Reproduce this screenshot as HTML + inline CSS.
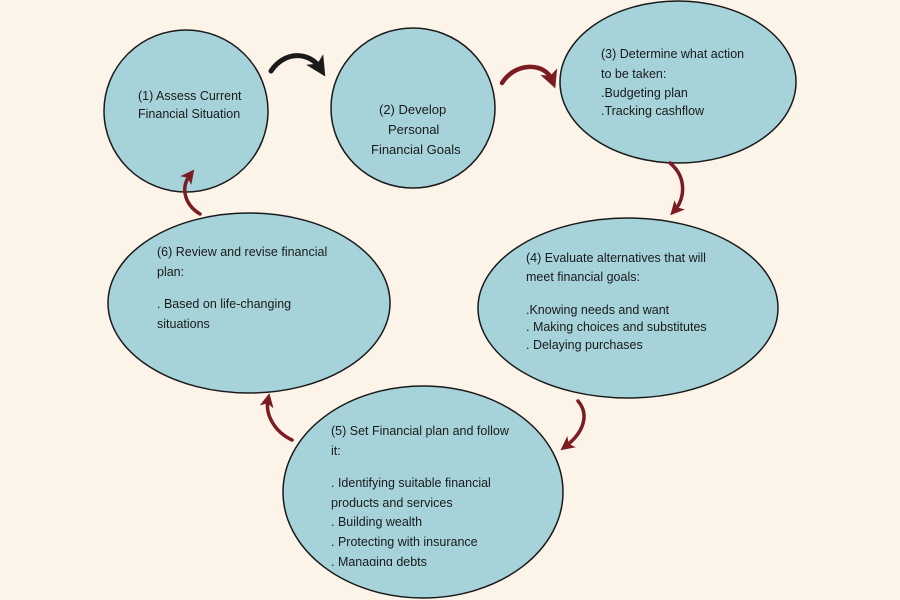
<!DOCTYPE html>
<html><head><meta charset="utf-8"><style>
html,body{margin:0;padding:0;background:#fdf4e9;}
svg{display:block}
text{font-family:"Liberation Sans",sans-serif;font-size:12.5px;fill:#1a1a1a}
</style></head><body>
<svg width="900" height="600" viewBox="0 0 900 600">
<rect width="900" height="600" fill="#fdf4e9"/>
<defs>
<marker id="ah" markerWidth="4" markerHeight="4" refX="2" refY="2" orient="auto" markerUnits="strokeWidth">
<path d="M0,0 L4,2 L0,4 L1,2 z" fill="#7a1c22"/></marker>
<marker id="ahk" markerWidth="4" markerHeight="4" refX="2" refY="2" orient="auto" markerUnits="strokeWidth">
<path d="M0,0 L4,2 L0,4 L1,2 z" fill="#1a1a1a"/></marker>
<clipPath id="c5"><rect x="0" y="0" width="900" height="566"/></clipPath>
</defs>
<g fill="#a6d3da" stroke="#1a1a1a" stroke-width="1.5">
<ellipse cx="186" cy="111" rx="82" ry="81"/>
<ellipse cx="413" cy="108" rx="82" ry="80"/>
<ellipse cx="678" cy="82" rx="118" ry="81"/>
<ellipse cx="628" cy="308" rx="150" ry="90"/>
<ellipse cx="249" cy="303" rx="141" ry="90"/>
<ellipse cx="423" cy="492" rx="140" ry="106"/>
</g>
<g fill="none" stroke-linecap="round">
<path d="M271,71 C285,50 310,52 320,68" stroke="#1a1a1a" stroke-width="5" marker-end="url(#ahk)"/>
<path d="M502,83 C515,62 545,62 552,80" stroke="#7a1c22" stroke-width="4.5" marker-end="url(#ah)"/>
<path d="M670,163 C688,178 684,200 675,210" stroke="#7a1c22" stroke-width="3.5" marker-end="url(#ah)"/>
<path d="M578,401 C590,415 583,433 566,446" stroke="#7a1c22" stroke-width="3.5" marker-end="url(#ah)"/>
<path d="M292,440 C275,432 265,415 268,400" stroke="#7a1c22" stroke-width="3.5" marker-end="url(#ah)"/>
<path d="M200,214 C185,205 180,188 190,175" stroke="#7a1c22" stroke-width="3.5" marker-end="url(#ah)"/>
</g>
<text x="138" y="100">(1) Assess Current</text>
<text x="138" y="118">Financial Situation</text>
<text x="379" y="114" style="font-size:13px">(2) Develop</text>
<text x="388" y="134" style="font-size:13px">Personal</text>
<text x="371" y="154" style="font-size:13px">Financial Goals</text>
<text x="601" y="58">(3) Determine what action</text>
<text x="601" y="78">to be taken:</text>
<text x="601" y="97">.Budgeting plan</text>
<text x="601" y="115">.Tracking cashflow</text>
<text x="526" y="262">(4) Evaluate alternatives that will</text>
<text x="526" y="281">meet financial goals:</text>
<text x="526" y="314">.Knowing needs and want</text>
<text x="526" y="331">. Making choices and substitutes</text>
<text x="526" y="349">. Delaying purchases</text>
<text x="157" y="256">(6) Review and revise financial</text>
<text x="157" y="276">plan:</text>
<text x="157" y="308">. Based on life-changing</text>
<text x="157" y="328">situations</text>
<g clip-path="url(#c5)">
<text x="331" y="435">(5) Set Financial plan and follow</text>
<text x="331" y="455">it:</text>
<text x="331" y="487">. Identifying suitable financial</text>
<text x="331" y="507">products and services</text>
<text x="331" y="526">. Building wealth</text>
<text x="331" y="546">. Protecting with insurance</text>
<text x="331" y="566">. Managing debts</text>
</g>
</svg>
</body></html>
